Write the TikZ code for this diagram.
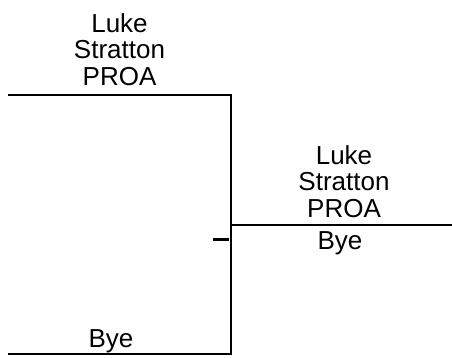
\documentclass[tikz,border=0pt]{standalone}
\usepackage{fontspec}
\setmainfont{Liberation Sans}
\begin{document}
\begin{tikzpicture}[x=1pt,y=-1pt,
  bline/.style={line width=2pt},
  lbl/.style={font=\fontsize{26}{26.5}\selectfont, align=center, inner sep=0pt, anchor=base}]
\useasboundingbox (0,0) rectangle (452,357);
\coordinate (tl) at (8,95);
\coordinate (tr) at (231,95);
\coordinate (br) at (231,354);
\coordinate (bl) at (8,354);
\coordinate (m) at (231,225);
\coordinate (mr) at (452,225);
\coordinate (t1) at (213,239);
\coordinate (t2) at (229,239);
\draw[bline] (tl) -- (tr) -- (br) -- (bl);
\draw[bline] (m) -- (mr);
\draw[line width=3pt] (t1) -- (t2);
\node[lbl] (top) at (119.5,85) {Luke\\Stratton\\PROA};
\node[lbl] (bot) at (111,347) {Bye};
\node[lbl] (win) at (344,217) {Luke\\Stratton\\PROA};
\node[lbl] (wbye) at (340,249) {Bye};
\end{tikzpicture}
\end{document}
